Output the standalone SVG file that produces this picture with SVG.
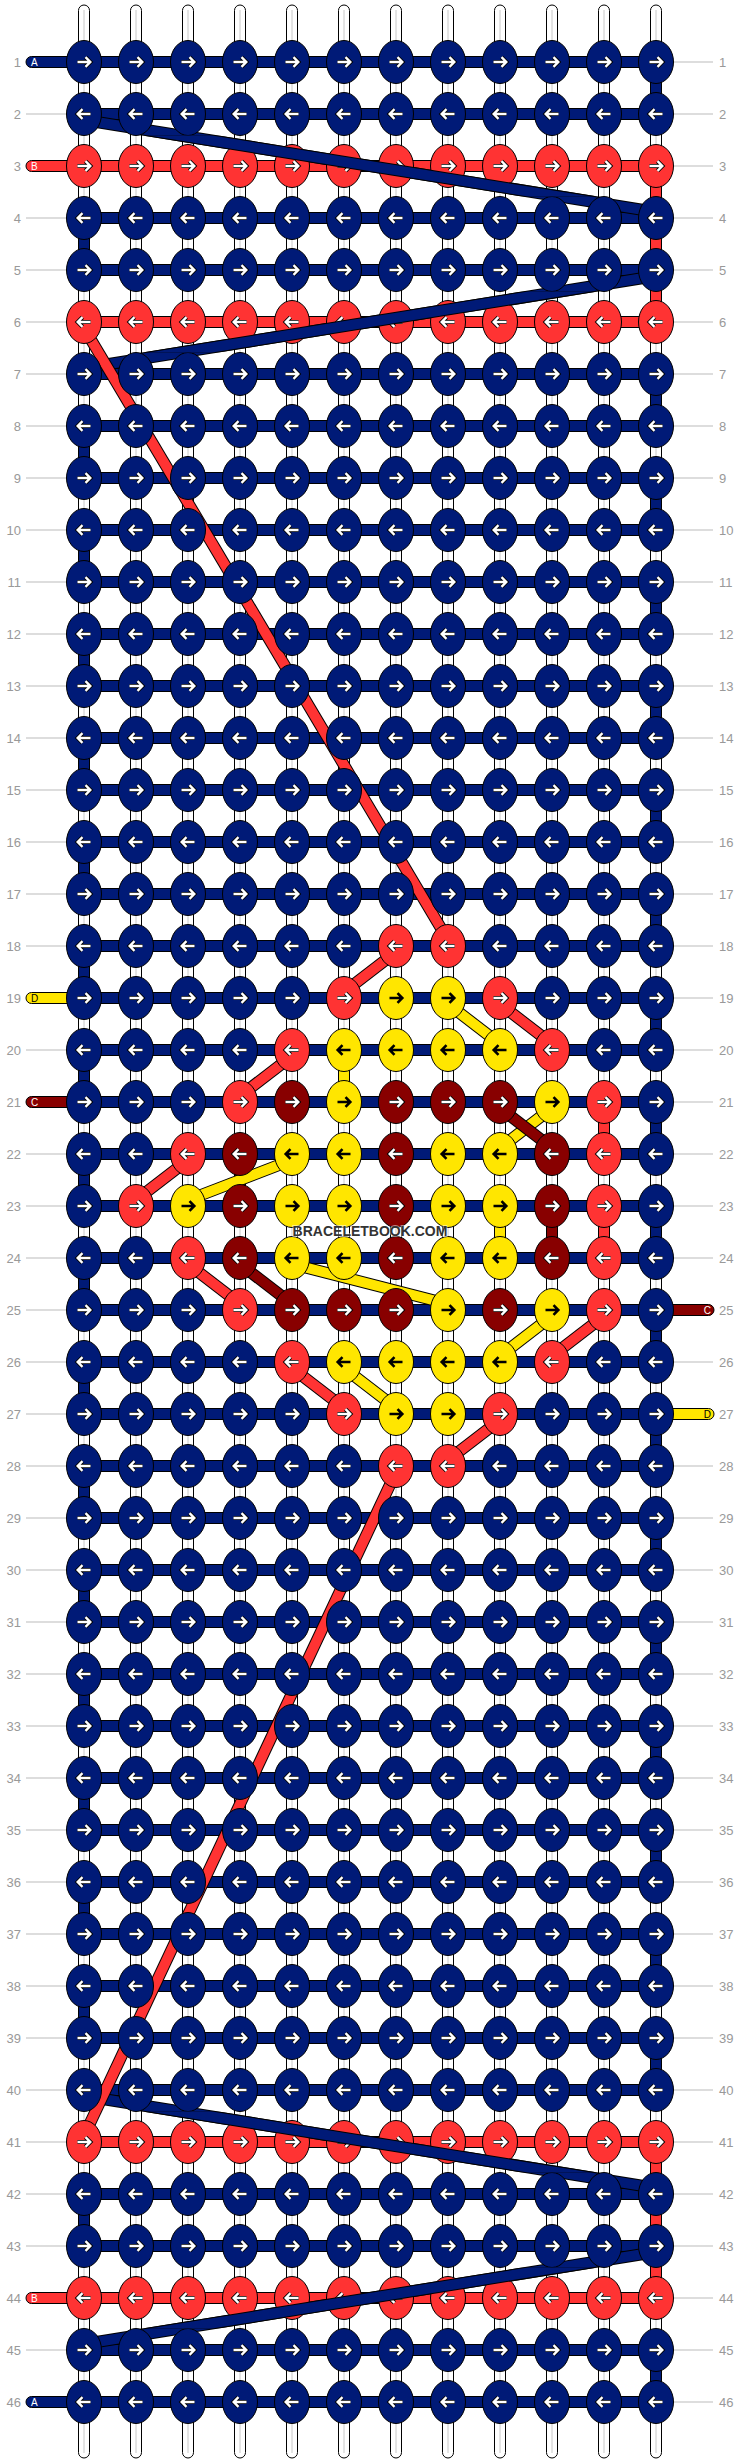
<svg xmlns="http://www.w3.org/2000/svg" xmlns:xlink="http://www.w3.org/1999/xlink" width="740" height="2464" viewBox="0 0 740 2464">
<style>
ellipse{stroke:#000;stroke-width:1}
.n{fill:#001a77}.r{fill:#ff3333}.d{fill:#880000}.y{fill:#ffe600}
.ao{fill:none;stroke:#000;stroke-width:4.2}
.aw{fill:none;stroke:#fff;stroke-width:2.4}
.ab{fill:none;stroke:#000;stroke-width:2.6}
.w{fill:#fff;stroke:#000;stroke-width:1}
.wl{stroke:#c8c8c8;stroke-width:1}
.bar{stroke:#000;stroke-width:1}
.o{fill:none;stroke:#000;stroke-width:12}
.tn{fill:none;stroke:#001a77;stroke-width:10}
.tr{fill:none;stroke:#ff3333;stroke-width:10}
.td{fill:none;stroke:#880000;stroke-width:10}
.ty{fill:none;stroke:#ffe600;stroke-width:10}
.gl{fill:none;stroke:#bbb;stroke-width:1}
.num{font-family:"Liberation Sans",Arial,sans-serif;font-size:13px;fill:#999}
.lt{text-anchor:end}
.sl{font-family:"Liberation Sans",Arial,sans-serif;font-size:10px;fill:#fff}
.slk{fill:#000}
.wm{font-family:"Liberation Sans",Arial,sans-serif;font-weight:bold;font-size:14px;fill:#333;text-anchor:middle;stroke:#fff;stroke-width:2;stroke-opacity:.5;paint-order:stroke}
</style>
<defs>
<path id="aR" d="M-6.5,0H6M1.5,-4.8L6.3,0L1.5,4.8"/>
<path id="aL" d="M6.5,0H-6M-1.5,-4.8L-6.3,0L-1.5,4.8"/>
<g id="NR"><ellipse rx="17.5" ry="21.5" class="n"/><use href="#aR" class="ao"/><use href="#aR" class="aw"/></g>
<g id="NL"><ellipse rx="17.5" ry="21.5" class="n"/><use href="#aL" class="ao"/><use href="#aL" class="aw"/></g>
<g id="RR"><ellipse rx="17.5" ry="21.5" class="r"/><use href="#aR" class="ao"/><use href="#aR" class="aw"/></g>
<g id="RL"><ellipse rx="17.5" ry="21.5" class="r"/><use href="#aL" class="ao"/><use href="#aL" class="aw"/></g>
<g id="DR"><ellipse rx="17.5" ry="21.5" class="d"/><use href="#aR" class="ao"/><use href="#aR" class="aw"/></g>
<g id="DL"><ellipse rx="17.5" ry="21.5" class="d"/><use href="#aL" class="ao"/><use href="#aL" class="aw"/></g>
<g id="YR"><ellipse rx="17.5" ry="21.5" class="y"/><use href="#aR" class="ab"/></g>
<g id="YL"><ellipse rx="17.5" ry="21.5" class="y"/><use href="#aL" class="ab"/></g>
<g id="wp"><rect class="w" x="-5.5" y="5" width="11" height="2453" rx="5.5"/><path class="wl" d="M0,10V2453"/></g>
<clipPath id="cA"><rect x="0" y="135.5" width="740" height="61"/></clipPath>
<clipPath id="cB"><rect x="0" y="291.5" width="740" height="61"/></clipPath>
<clipPath id="cC"><rect x="0" y="2111.5" width="740" height="61"/></clipPath>
<clipPath id="cD"><rect x="0" y="2267.5" width="740" height="61"/></clipPath>
<path id="dA" d="M84,120L656,212"/>
<path id="dB" d="M656,276L84,368"/>
<path id="dC" d="M84,2096L656,2188"/>
<path id="dD" d="M656,2252L84,2344"/>
<path id="dE" d="M84,328L448,940"/>
<path id="dF" d="M396,1472L84,2136"/>
</defs>
<rect width="740" height="2464" fill="#fff"/>
<g id="warps">
<use href="#wp" x="84"/><use href="#wp" x="136"/><use href="#wp" x="188"/><use href="#wp" x="240"/><use href="#wp" x="292"/><use href="#wp" x="344"/><use href="#wp" x="396"/><use href="#wp" x="448"/><use href="#wp" x="500"/><use href="#wp" x="552"/><use href="#wp" x="604"/><use href="#wp" x="656"/>
</g>
<g id="labels">
<path class="gl" d="M26,114H67M26,218H67M26,270H67M26,322H67M26,374H67M26,426H67M26,478H67M26,530H67M26,582H67M26,634H67M26,686H67M26,738H67M26,790H67M26,842H67M26,894H67M26,946H67M26,1050H67M26,1154H67M26,1206H67M26,1258H67M26,1310H67M26,1362H67M26,1414H67M26,1466H67M26,1518H67M26,1570H67M26,1622H67M26,1674H67M26,1726H67M26,1778H67M26,1830H67M26,1882H67M26,1934H67M26,1986H67M26,2038H67M26,2090H67M26,2142H67M26,2194H67M26,2246H67M26,2350H67"/>
<path class="gl" d="M673,62H713M673,114H713M673,166H713M673,218H713M673,270H713M673,322H713M673,374H713M673,426H713M673,478H713M673,530H713M673,582H713M673,634H713M673,686H713M673,738H713M673,790H713M673,842H713M673,894H713M673,946H713M673,998H713M673,1050H713M673,1102H713M673,1154H713M673,1206H713M673,1258H713M673,1362H713M673,1466H713M673,1518H713M673,1570H713M673,1622H713M673,1674H713M673,1726H713M673,1778H713M673,1830H713M673,1882H713M673,1934H713M673,1986H713M673,2038H713M673,2090H713M673,2142H713M673,2194H713M673,2246H713M673,2298H713M673,2350H713M673,2402H713"/>
<g class="num lt">
<text x="21" y="66.5">1</text><text x="21" y="118.5">2</text><text x="21" y="170.5">3</text><text x="21" y="222.5">4</text><text x="21" y="274.5">5</text><text x="21" y="326.5">6</text><text x="21" y="378.5">7</text><text x="21" y="430.5">8</text><text x="21" y="482.5">9</text><text x="21" y="534.5">10</text><text x="21" y="586.5">11</text><text x="21" y="638.5">12</text><text x="21" y="690.5">13</text><text x="21" y="742.5">14</text><text x="21" y="794.5">15</text><text x="21" y="846.5">16</text><text x="21" y="898.5">17</text><text x="21" y="950.5">18</text><text x="21" y="1002.5">19</text><text x="21" y="1054.5">20</text><text x="21" y="1106.5">21</text><text x="21" y="1158.5">22</text><text x="21" y="1210.5">23</text><text x="21" y="1262.5">24</text><text x="21" y="1314.5">25</text><text x="21" y="1366.5">26</text><text x="21" y="1418.5">27</text><text x="21" y="1470.5">28</text><text x="21" y="1522.5">29</text><text x="21" y="1574.5">30</text><text x="21" y="1626.5">31</text><text x="21" y="1678.5">32</text><text x="21" y="1730.5">33</text><text x="21" y="1782.5">34</text><text x="21" y="1834.5">35</text><text x="21" y="1886.5">36</text><text x="21" y="1938.5">37</text><text x="21" y="1990.5">38</text><text x="21" y="2042.5">39</text><text x="21" y="2094.5">40</text><text x="21" y="2146.5">41</text><text x="21" y="2198.5">42</text><text x="21" y="2250.5">43</text><text x="21" y="2302.5">44</text><text x="21" y="2354.5">45</text><text x="21" y="2406.5">46</text>
</g>
<g class="num">
<text x="719" y="66.5">1</text><text x="719" y="118.5">2</text><text x="719" y="170.5">3</text><text x="719" y="222.5">4</text><text x="719" y="274.5">5</text><text x="719" y="326.5">6</text><text x="719" y="378.5">7</text><text x="719" y="430.5">8</text><text x="719" y="482.5">9</text><text x="719" y="534.5">10</text><text x="719" y="586.5">11</text><text x="719" y="638.5">12</text><text x="719" y="690.5">13</text><text x="719" y="742.5">14</text><text x="719" y="794.5">15</text><text x="719" y="846.5">16</text><text x="719" y="898.5">17</text><text x="719" y="950.5">18</text><text x="719" y="1002.5">19</text><text x="719" y="1054.5">20</text><text x="719" y="1106.5">21</text><text x="719" y="1158.5">22</text><text x="719" y="1210.5">23</text><text x="719" y="1262.5">24</text><text x="719" y="1314.5">25</text><text x="719" y="1366.5">26</text><text x="719" y="1418.5">27</text><text x="719" y="1470.5">28</text><text x="719" y="1522.5">29</text><text x="719" y="1574.5">30</text><text x="719" y="1626.5">31</text><text x="719" y="1678.5">32</text><text x="719" y="1730.5">33</text><text x="719" y="1782.5">34</text><text x="719" y="1834.5">35</text><text x="719" y="1886.5">36</text><text x="719" y="1938.5">37</text><text x="719" y="1990.5">38</text><text x="719" y="2042.5">39</text><text x="719" y="2094.5">40</text><text x="719" y="2146.5">41</text><text x="719" y="2198.5">42</text><text x="719" y="2250.5">43</text><text x="719" y="2302.5">44</text><text x="719" y="2354.5">45</text><text x="719" y="2406.5">46</text>
</g>
</g>
<g id="connectors">
<g id="bars" class="bar">
<rect class="n" x="84" y="56.5" width="572" height="11"/><rect class="n" x="84" y="108.5" width="572" height="11"/><rect class="r" x="84" y="160.5" width="572" height="11"/><rect class="n" x="84" y="212.5" width="572" height="11"/><rect class="n" x="84" y="264.5" width="572" height="11"/><rect class="r" x="84" y="316.5" width="572" height="11"/><rect class="n" x="84" y="368.5" width="572" height="11"/><rect class="n" x="84" y="420.5" width="572" height="11"/><rect class="n" x="84" y="472.5" width="572" height="11"/><rect class="n" x="84" y="524.5" width="572" height="11"/><rect class="n" x="84" y="576.5" width="572" height="11"/><rect class="n" x="84" y="628.5" width="572" height="11"/><rect class="n" x="84" y="680.5" width="572" height="11"/><rect class="n" x="84" y="732.5" width="572" height="11"/><rect class="n" x="84" y="784.5" width="572" height="11"/><rect class="n" x="84" y="836.5" width="572" height="11"/><rect class="n" x="84" y="888.5" width="572" height="11"/><rect class="n" x="84" y="940.5" width="572" height="11"/><rect class="n" x="84" y="992.5" width="572" height="11"/><rect class="n" x="84" y="1044.5" width="572" height="11"/><rect class="n" x="84" y="1096.5" width="572" height="11"/><rect class="n" x="84" y="1148.5" width="572" height="11"/><rect class="n" x="84" y="1200.5" width="572" height="11"/><rect class="n" x="84" y="1252.5" width="572" height="11"/><rect class="n" x="84" y="1304.5" width="572" height="11"/><rect class="n" x="84" y="1356.5" width="572" height="11"/><rect class="n" x="84" y="1408.5" width="572" height="11"/><rect class="n" x="84" y="1460.5" width="572" height="11"/><rect class="n" x="84" y="1512.5" width="572" height="11"/><rect class="n" x="84" y="1564.5" width="572" height="11"/><rect class="n" x="84" y="1616.5" width="572" height="11"/><rect class="n" x="84" y="1668.5" width="572" height="11"/><rect class="n" x="84" y="1720.5" width="572" height="11"/><rect class="n" x="84" y="1772.5" width="572" height="11"/><rect class="n" x="84" y="1824.5" width="572" height="11"/><rect class="n" x="84" y="1876.5" width="572" height="11"/><rect class="n" x="84" y="1928.5" width="572" height="11"/><rect class="n" x="84" y="1980.5" width="572" height="11"/><rect class="n" x="84" y="2032.5" width="572" height="11"/><rect class="n" x="84" y="2084.5" width="572" height="11"/><rect class="r" x="84" y="2136.5" width="572" height="11"/><rect class="n" x="84" y="2188.5" width="572" height="11"/><rect class="n" x="84" y="2240.5" width="572" height="11"/><rect class="r" x="84" y="2292.5" width="572" height="11"/><rect class="n" x="84" y="2344.5" width="572" height="11"/><rect class="n" x="84" y="2396.5" width="572" height="11"/>
</g>
<g id="stubs" class="bar">
<rect class="n" x="26" y="56.5" width="62" height="11" rx="5.5"/><rect class="r" x="26" y="160.5" width="62" height="11" rx="5.5"/><rect class="y" x="26" y="992.5" width="62" height="11" rx="5.5"/><rect class="d" x="26" y="1096.5" width="62" height="11" rx="5.5"/><rect class="r" x="26" y="2292.5" width="62" height="11" rx="5.5"/><rect class="n" x="26" y="2396.5" width="62" height="11" rx="5.5"/>
<rect class="d" x="652" y="1304.5" width="62" height="11" rx="5.5"/><rect class="y" x="652" y="1408.5" width="62" height="11" rx="5.5"/>
</g>
<g id="stub-labels" class="sl">
<text x="31" y="65.5">A</text><text x="31" y="169.5">B</text><text x="31" y="1001.5" class="slk">D</text><text x="31" y="1105.5">C</text><text x="31" y="2301.5">B</text><text x="31" y="2405.5">A</text>
<text x="711" y="1313.5" text-anchor="end">C</text><text x="711" y="1417.5" text-anchor="end" class="slk">D</text>
</g>
<g id="verticals" class="bar">
<rect class="n" x="650.5" y="62" width="11" height="52"/><rect class="n" x="650.5" y="374" width="11" height="52"/><rect class="n" x="650.5" y="478" width="11" height="52"/><rect class="n" x="650.5" y="582" width="11" height="52"/><rect class="n" x="650.5" y="686" width="11" height="52"/><rect class="n" x="650.5" y="790" width="11" height="52"/><rect class="n" x="650.5" y="894" width="11" height="52"/><rect class="n" x="650.5" y="998" width="11" height="52"/><rect class="n" x="650.5" y="1102" width="11" height="52"/><rect class="n" x="650.5" y="1206" width="11" height="52"/><rect class="n" x="650.5" y="1310" width="11" height="52"/><rect class="n" x="650.5" y="1414" width="11" height="52"/><rect class="n" x="650.5" y="1518" width="11" height="52"/><rect class="n" x="650.5" y="1622" width="11" height="52"/><rect class="n" x="650.5" y="1726" width="11" height="52"/><rect class="n" x="650.5" y="1830" width="11" height="52"/><rect class="n" x="650.5" y="1934" width="11" height="52"/><rect class="n" x="650.5" y="2038" width="11" height="52"/><rect class="n" x="650.5" y="2350" width="11" height="52"/>
<rect class="n" x="78.5" y="218" width="11" height="52"/><rect class="n" x="78.5" y="426" width="11" height="52"/><rect class="n" x="78.5" y="530" width="11" height="52"/><rect class="n" x="78.5" y="634" width="11" height="52"/><rect class="n" x="78.5" y="738" width="11" height="52"/><rect class="n" x="78.5" y="842" width="11" height="52"/><rect class="n" x="78.5" y="946" width="11" height="52"/><rect class="n" x="78.5" y="1050" width="11" height="52"/><rect class="n" x="78.5" y="1154" width="11" height="52"/><rect class="n" x="78.5" y="1258" width="11" height="52"/><rect class="n" x="78.5" y="1362" width="11" height="52"/><rect class="n" x="78.5" y="1466" width="11" height="52"/><rect class="n" x="78.5" y="1570" width="11" height="52"/><rect class="n" x="78.5" y="1674" width="11" height="52"/><rect class="n" x="78.5" y="1778" width="11" height="52"/><rect class="n" x="78.5" y="1882" width="11" height="52"/><rect class="n" x="78.5" y="1986" width="11" height="52"/><rect class="n" x="78.5" y="2194" width="11" height="52"/>
<rect class="r" x="650.5" y="166" width="11" height="156"/><rect class="r" x="650.5" y="2142" width="11" height="156"/><rect class="r" x="598.5" y="1102" width="11" height="52"/><rect class="r" x="598.5" y="1206" width="11" height="52"/>
<rect class="y" x="338.5" y="1050" width="11" height="52"/><rect class="y" x="494.5" y="1206" width="11" height="52"/>
<rect class="d" x="234.5" y="1154" width="11" height="52"/><rect class="d" x="546.5" y="1206" width="11" height="52"/>
</g>
<g id="diagonals">
<use href="#dA" class="o"/><use href="#dA" class="tn"/>
<use href="#dB" class="o"/><use href="#dB" class="tn"/>
<use href="#dC" class="o"/><use href="#dC" class="tn"/>
<use href="#dD" class="o"/><use href="#dD" class="tn"/>
<use href="#dE" class="o"/><use href="#dE" class="tr"/>
<use href="#dF" class="o"/><use href="#dF" class="tr"/>
<path class="o" d="M396,952L344,992"/><path class="tr" d="M396,952L344,992"/>
<path class="o" d="M500,1004L552,1044"/><path class="tr" d="M500,1004L552,1044"/>
<path class="o" d="M292,1056L240,1096"/><path class="tr" d="M292,1056L240,1096"/>
<path class="o" d="M188,1160L136,1200"/><path class="tr" d="M188,1160L136,1200"/>
<path class="o" d="M188,1264L240,1304"/><path class="tr" d="M188,1264L240,1304"/>
<path class="o" d="M604,1316L552,1356"/><path class="tr" d="M604,1316L552,1356"/>
<path class="o" d="M292,1368L344,1408"/><path class="tr" d="M292,1368L344,1408"/>
<path class="o" d="M500,1420L448,1460"/><path class="tr" d="M500,1420L448,1460"/>
<path class="o" d="M448,1004L500,1044"/><path class="ty" d="M448,1004L500,1044"/>
<path class="o" d="M552,1108L500,1148"/><path class="ty" d="M552,1108L500,1148"/>
<path class="o" d="M292,1160L188,1200"/><path class="ty" d="M292,1160L188,1200"/>
<path class="o" d="M292,1264L448,1304"/><path class="ty" d="M292,1264L448,1304"/>
<path class="o" d="M552,1316L500,1356"/><path class="ty" d="M552,1316L500,1356"/>
<path class="o" d="M344,1368L396,1408"/><path class="ty" d="M344,1368L396,1408"/>
<path class="o" d="M500,1108L552,1148"/><path class="td" d="M500,1108L552,1148"/>
<path class="o" d="M240,1264L292,1304"/><path class="td" d="M240,1264L292,1304"/>
</g>
</g>
<g id="nodes">
<g id="row1" transform="translate(0,62)"><g id="k1_1"><use href="#NR" x="84"/></g><g id="k1_2"><use href="#NR" x="136"/></g><g id="k1_3"><use href="#NR" x="188"/></g><g id="k1_4"><use href="#NR" x="240"/></g><g id="k1_5"><use href="#NR" x="292"/></g><g id="k1_6"><use href="#NR" x="344"/></g><g id="k1_7"><use href="#NR" x="396"/></g><g id="k1_8"><use href="#NR" x="448"/></g><g id="k1_9"><use href="#NR" x="500"/></g><g id="k1_10"><use href="#NR" x="552"/></g><g id="k1_11"><use href="#NR" x="604"/></g><g id="k1_12"><use href="#NR" x="656"/></g></g>
<g id="row2" transform="translate(0,114)"><g id="k2_1"><use href="#NL" x="84"/></g><g id="k2_2"><use href="#NL" x="136"/></g><g id="k2_3"><use href="#NL" x="188"/></g><g id="k2_4"><use href="#NL" x="240"/></g><g id="k2_5"><use href="#NL" x="292"/></g><g id="k2_6"><use href="#NL" x="344"/></g><g id="k2_7"><use href="#NL" x="396"/></g><g id="k2_8"><use href="#NL" x="448"/></g><g id="k2_9"><use href="#NL" x="500"/></g><g id="k2_10"><use href="#NL" x="552"/></g><g id="k2_11"><use href="#NL" x="604"/></g><g id="k2_12"><use href="#NL" x="656"/></g></g>
<g id="row3" transform="translate(0,166)"><g id="k3_1"><use href="#RR" x="84"/></g><g id="k3_2"><use href="#RR" x="136"/></g><g id="k3_3"><use href="#RR" x="188"/></g><g id="k3_4"><use href="#RR" x="240"/></g><g id="k3_5"><use href="#RR" x="292"/></g><g id="k3_6"><use href="#RR" x="344"/></g><g id="k3_7"><use href="#RR" x="396"/></g><g id="k3_8"><use href="#RR" x="448"/></g><g id="k3_9"><use href="#RR" x="500"/></g><g id="k3_10"><use href="#RR" x="552"/></g><g id="k3_11"><use href="#RR" x="604"/></g><g id="k3_12"><use href="#RR" x="656"/></g></g>
<g id="row4" transform="translate(0,218)"><g id="k4_1"><use href="#NL" x="84"/></g><g id="k4_2"><use href="#NL" x="136"/></g><g id="k4_3"><use href="#NL" x="188"/></g><g id="k4_4"><use href="#NL" x="240"/></g><g id="k4_5"><use href="#NL" x="292"/></g><g id="k4_6"><use href="#NL" x="344"/></g><g id="k4_7"><use href="#NL" x="396"/></g><g id="k4_8"><use href="#NL" x="448"/></g><g id="k4_9"><use href="#NL" x="500"/></g><g id="k4_10"><use href="#NL" x="552"/></g><g id="k4_11"><use href="#NL" x="604"/></g><g id="k4_12"><use href="#NL" x="656"/></g></g>
<g id="row5" transform="translate(0,270)"><g id="k5_1"><use href="#NR" x="84"/></g><g id="k5_2"><use href="#NR" x="136"/></g><g id="k5_3"><use href="#NR" x="188"/></g><g id="k5_4"><use href="#NR" x="240"/></g><g id="k5_5"><use href="#NR" x="292"/></g><g id="k5_6"><use href="#NR" x="344"/></g><g id="k5_7"><use href="#NR" x="396"/></g><g id="k5_8"><use href="#NR" x="448"/></g><g id="k5_9"><use href="#NR" x="500"/></g><g id="k5_10"><use href="#NR" x="552"/></g><g id="k5_11"><use href="#NR" x="604"/></g><g id="k5_12"><use href="#NR" x="656"/></g></g>
<g id="row6" transform="translate(0,322)"><g id="k6_1"><use href="#RL" x="84"/></g><g id="k6_2"><use href="#RL" x="136"/></g><g id="k6_3"><use href="#RL" x="188"/></g><g id="k6_4"><use href="#RL" x="240"/></g><g id="k6_5"><use href="#RL" x="292"/></g><g id="k6_6"><use href="#RL" x="344"/></g><g id="k6_7"><use href="#RL" x="396"/></g><g id="k6_8"><use href="#RL" x="448"/></g><g id="k6_9"><use href="#RL" x="500"/></g><g id="k6_10"><use href="#RL" x="552"/></g><g id="k6_11"><use href="#RL" x="604"/></g><g id="k6_12"><use href="#RL" x="656"/></g></g>
<g id="row7" transform="translate(0,374)"><g id="k7_1"><use href="#NR" x="84"/></g><g id="k7_2"><use href="#NR" x="136"/></g><g id="k7_3"><use href="#NR" x="188"/></g><g id="k7_4"><use href="#NR" x="240"/></g><g id="k7_5"><use href="#NR" x="292"/></g><g id="k7_6"><use href="#NR" x="344"/></g><g id="k7_7"><use href="#NR" x="396"/></g><g id="k7_8"><use href="#NR" x="448"/></g><g id="k7_9"><use href="#NR" x="500"/></g><g id="k7_10"><use href="#NR" x="552"/></g><g id="k7_11"><use href="#NR" x="604"/></g><g id="k7_12"><use href="#NR" x="656"/></g></g>
<g id="row8" transform="translate(0,426)"><g id="k8_1"><use href="#NL" x="84"/></g><g id="k8_2"><use href="#NL" x="136"/></g><g id="k8_3"><use href="#NL" x="188"/></g><g id="k8_4"><use href="#NL" x="240"/></g><g id="k8_5"><use href="#NL" x="292"/></g><g id="k8_6"><use href="#NL" x="344"/></g><g id="k8_7"><use href="#NL" x="396"/></g><g id="k8_8"><use href="#NL" x="448"/></g><g id="k8_9"><use href="#NL" x="500"/></g><g id="k8_10"><use href="#NL" x="552"/></g><g id="k8_11"><use href="#NL" x="604"/></g><g id="k8_12"><use href="#NL" x="656"/></g></g>
<g id="row9" transform="translate(0,478)"><g id="k9_1"><use href="#NR" x="84"/></g><g id="k9_2"><use href="#NR" x="136"/></g><g id="k9_3"><use href="#NR" x="188"/></g><g id="k9_4"><use href="#NR" x="240"/></g><g id="k9_5"><use href="#NR" x="292"/></g><g id="k9_6"><use href="#NR" x="344"/></g><g id="k9_7"><use href="#NR" x="396"/></g><g id="k9_8"><use href="#NR" x="448"/></g><g id="k9_9"><use href="#NR" x="500"/></g><g id="k9_10"><use href="#NR" x="552"/></g><g id="k9_11"><use href="#NR" x="604"/></g><g id="k9_12"><use href="#NR" x="656"/></g></g>
<g id="row10" transform="translate(0,530)"><g id="k10_1"><use href="#NL" x="84"/></g><g id="k10_2"><use href="#NL" x="136"/></g><g id="k10_3"><use href="#NL" x="188"/></g><g id="k10_4"><use href="#NL" x="240"/></g><g id="k10_5"><use href="#NL" x="292"/></g><g id="k10_6"><use href="#NL" x="344"/></g><g id="k10_7"><use href="#NL" x="396"/></g><g id="k10_8"><use href="#NL" x="448"/></g><g id="k10_9"><use href="#NL" x="500"/></g><g id="k10_10"><use href="#NL" x="552"/></g><g id="k10_11"><use href="#NL" x="604"/></g><g id="k10_12"><use href="#NL" x="656"/></g></g>
<g id="row11" transform="translate(0,582)"><g id="k11_1"><use href="#NR" x="84"/></g><g id="k11_2"><use href="#NR" x="136"/></g><g id="k11_3"><use href="#NR" x="188"/></g><g id="k11_4"><use href="#NR" x="240"/></g><g id="k11_5"><use href="#NR" x="292"/></g><g id="k11_6"><use href="#NR" x="344"/></g><g id="k11_7"><use href="#NR" x="396"/></g><g id="k11_8"><use href="#NR" x="448"/></g><g id="k11_9"><use href="#NR" x="500"/></g><g id="k11_10"><use href="#NR" x="552"/></g><g id="k11_11"><use href="#NR" x="604"/></g><g id="k11_12"><use href="#NR" x="656"/></g></g>
<g id="row12" transform="translate(0,634)"><g id="k12_1"><use href="#NL" x="84"/></g><g id="k12_2"><use href="#NL" x="136"/></g><g id="k12_3"><use href="#NL" x="188"/></g><g id="k12_4"><use href="#NL" x="240"/></g><g id="k12_5"><use href="#NL" x="292"/></g><g id="k12_6"><use href="#NL" x="344"/></g><g id="k12_7"><use href="#NL" x="396"/></g><g id="k12_8"><use href="#NL" x="448"/></g><g id="k12_9"><use href="#NL" x="500"/></g><g id="k12_10"><use href="#NL" x="552"/></g><g id="k12_11"><use href="#NL" x="604"/></g><g id="k12_12"><use href="#NL" x="656"/></g></g>
<g id="row13" transform="translate(0,686)"><g id="k13_1"><use href="#NR" x="84"/></g><g id="k13_2"><use href="#NR" x="136"/></g><g id="k13_3"><use href="#NR" x="188"/></g><g id="k13_4"><use href="#NR" x="240"/></g><g id="k13_5"><use href="#NR" x="292"/></g><g id="k13_6"><use href="#NR" x="344"/></g><g id="k13_7"><use href="#NR" x="396"/></g><g id="k13_8"><use href="#NR" x="448"/></g><g id="k13_9"><use href="#NR" x="500"/></g><g id="k13_10"><use href="#NR" x="552"/></g><g id="k13_11"><use href="#NR" x="604"/></g><g id="k13_12"><use href="#NR" x="656"/></g></g>
<g id="row14" transform="translate(0,738)"><g id="k14_1"><use href="#NL" x="84"/></g><g id="k14_2"><use href="#NL" x="136"/></g><g id="k14_3"><use href="#NL" x="188"/></g><g id="k14_4"><use href="#NL" x="240"/></g><g id="k14_5"><use href="#NL" x="292"/></g><g id="k14_6"><use href="#NL" x="344"/></g><g id="k14_7"><use href="#NL" x="396"/></g><g id="k14_8"><use href="#NL" x="448"/></g><g id="k14_9"><use href="#NL" x="500"/></g><g id="k14_10"><use href="#NL" x="552"/></g><g id="k14_11"><use href="#NL" x="604"/></g><g id="k14_12"><use href="#NL" x="656"/></g></g>
<g id="row15" transform="translate(0,790)"><g id="k15_1"><use href="#NR" x="84"/></g><g id="k15_2"><use href="#NR" x="136"/></g><g id="k15_3"><use href="#NR" x="188"/></g><g id="k15_4"><use href="#NR" x="240"/></g><g id="k15_5"><use href="#NR" x="292"/></g><g id="k15_6"><use href="#NR" x="344"/></g><g id="k15_7"><use href="#NR" x="396"/></g><g id="k15_8"><use href="#NR" x="448"/></g><g id="k15_9"><use href="#NR" x="500"/></g><g id="k15_10"><use href="#NR" x="552"/></g><g id="k15_11"><use href="#NR" x="604"/></g><g id="k15_12"><use href="#NR" x="656"/></g></g>
<g id="row16" transform="translate(0,842)"><g id="k16_1"><use href="#NL" x="84"/></g><g id="k16_2"><use href="#NL" x="136"/></g><g id="k16_3"><use href="#NL" x="188"/></g><g id="k16_4"><use href="#NL" x="240"/></g><g id="k16_5"><use href="#NL" x="292"/></g><g id="k16_6"><use href="#NL" x="344"/></g><g id="k16_7"><use href="#NL" x="396"/></g><g id="k16_8"><use href="#NL" x="448"/></g><g id="k16_9"><use href="#NL" x="500"/></g><g id="k16_10"><use href="#NL" x="552"/></g><g id="k16_11"><use href="#NL" x="604"/></g><g id="k16_12"><use href="#NL" x="656"/></g></g>
<g id="row17" transform="translate(0,894)"><g id="k17_1"><use href="#NR" x="84"/></g><g id="k17_2"><use href="#NR" x="136"/></g><g id="k17_3"><use href="#NR" x="188"/></g><g id="k17_4"><use href="#NR" x="240"/></g><g id="k17_5"><use href="#NR" x="292"/></g><g id="k17_6"><use href="#NR" x="344"/></g><g id="k17_7"><use href="#NR" x="396"/></g><g id="k17_8"><use href="#NR" x="448"/></g><g id="k17_9"><use href="#NR" x="500"/></g><g id="k17_10"><use href="#NR" x="552"/></g><g id="k17_11"><use href="#NR" x="604"/></g><g id="k17_12"><use href="#NR" x="656"/></g></g>
<g id="row18" transform="translate(0,946)"><g id="k18_1"><use href="#NL" x="84"/></g><g id="k18_2"><use href="#NL" x="136"/></g><g id="k18_3"><use href="#NL" x="188"/></g><g id="k18_4"><use href="#NL" x="240"/></g><g id="k18_5"><use href="#NL" x="292"/></g><g id="k18_6"><use href="#NL" x="344"/></g><g id="k18_7"><use href="#RL" x="396"/></g><g id="k18_8"><use href="#RL" x="448"/></g><g id="k18_9"><use href="#NL" x="500"/></g><g id="k18_10"><use href="#NL" x="552"/></g><g id="k18_11"><use href="#NL" x="604"/></g><g id="k18_12"><use href="#NL" x="656"/></g></g>
<g id="row19" transform="translate(0,998)"><g id="k19_1"><use href="#NR" x="84"/></g><g id="k19_2"><use href="#NR" x="136"/></g><g id="k19_3"><use href="#NR" x="188"/></g><g id="k19_4"><use href="#NR" x="240"/></g><g id="k19_5"><use href="#NR" x="292"/></g><g id="k19_6"><use href="#RR" x="344"/></g><g id="k19_7"><use href="#YR" x="396"/></g><g id="k19_8"><use href="#YR" x="448"/></g><g id="k19_9"><use href="#RR" x="500"/></g><g id="k19_10"><use href="#NR" x="552"/></g><g id="k19_11"><use href="#NR" x="604"/></g><g id="k19_12"><use href="#NR" x="656"/></g></g>
<g id="row20" transform="translate(0,1050)"><g id="k20_1"><use href="#NL" x="84"/></g><g id="k20_2"><use href="#NL" x="136"/></g><g id="k20_3"><use href="#NL" x="188"/></g><g id="k20_4"><use href="#NL" x="240"/></g><g id="k20_5"><use href="#RL" x="292"/></g><g id="k20_6"><use href="#YL" x="344"/></g><g id="k20_7"><use href="#YL" x="396"/></g><g id="k20_8"><use href="#YL" x="448"/></g><g id="k20_9"><use href="#YL" x="500"/></g><g id="k20_10"><use href="#RL" x="552"/></g><g id="k20_11"><use href="#NL" x="604"/></g><g id="k20_12"><use href="#NL" x="656"/></g></g>
<g id="row21" transform="translate(0,1102)"><g id="k21_1"><use href="#NR" x="84"/></g><g id="k21_2"><use href="#NR" x="136"/></g><g id="k21_3"><use href="#NR" x="188"/></g><g id="k21_4"><use href="#RR" x="240"/></g><g id="k21_5"><use href="#DR" x="292"/></g><g id="k21_6"><use href="#YR" x="344"/></g><g id="k21_7"><use href="#DR" x="396"/></g><g id="k21_8"><use href="#DR" x="448"/></g><g id="k21_9"><use href="#DR" x="500"/></g><g id="k21_10"><use href="#YR" x="552"/></g><g id="k21_11"><use href="#RR" x="604"/></g><g id="k21_12"><use href="#NR" x="656"/></g></g>
<g id="row22" transform="translate(0,1154)"><g id="k22_1"><use href="#NL" x="84"/></g><g id="k22_2"><use href="#NL" x="136"/></g><g id="k22_3"><use href="#RL" x="188"/></g><g id="k22_4"><use href="#DL" x="240"/></g><g id="k22_5"><use href="#YL" x="292"/></g><g id="k22_6"><use href="#YL" x="344"/></g><g id="k22_7"><use href="#DL" x="396"/></g><g id="k22_8"><use href="#YL" x="448"/></g><g id="k22_9"><use href="#YL" x="500"/></g><g id="k22_10"><use href="#DL" x="552"/></g><g id="k22_11"><use href="#RL" x="604"/></g><g id="k22_12"><use href="#NL" x="656"/></g></g>
<g id="row23" transform="translate(0,1206)"><g id="k23_1"><use href="#NR" x="84"/></g><g id="k23_2"><use href="#RR" x="136"/></g><g id="k23_3"><use href="#YR" x="188"/></g><g id="k23_4"><use href="#DR" x="240"/></g><g id="k23_5"><use href="#YR" x="292"/></g><g id="k23_6"><use href="#YR" x="344"/></g><g id="k23_7"><use href="#DR" x="396"/></g><g id="k23_8"><use href="#YR" x="448"/></g><g id="k23_9"><use href="#YR" x="500"/></g><g id="k23_10"><use href="#DR" x="552"/></g><g id="k23_11"><use href="#RR" x="604"/></g><g id="k23_12"><use href="#NR" x="656"/></g></g>
<g id="row24" transform="translate(0,1258)"><g id="k24_1"><use href="#NL" x="84"/></g><g id="k24_2"><use href="#NL" x="136"/></g><g id="k24_3"><use href="#RL" x="188"/></g><g id="k24_4"><use href="#DL" x="240"/></g><g id="k24_5"><use href="#YL" x="292"/></g><g id="k24_6"><use href="#YL" x="344"/></g><g id="k24_7"><use href="#DL" x="396"/></g><g id="k24_8"><use href="#YL" x="448"/></g><g id="k24_9"><use href="#YL" x="500"/></g><g id="k24_10"><use href="#DL" x="552"/></g><g id="k24_11"><use href="#RL" x="604"/></g><g id="k24_12"><use href="#NL" x="656"/></g></g>
<g id="row25" transform="translate(0,1310)"><g id="k25_1"><use href="#NR" x="84"/></g><g id="k25_2"><use href="#NR" x="136"/></g><g id="k25_3"><use href="#NR" x="188"/></g><g id="k25_4"><use href="#RR" x="240"/></g><g id="k25_5"><use href="#DR" x="292"/></g><g id="k25_6"><use href="#DR" x="344"/></g><g id="k25_7"><use href="#DR" x="396"/></g><g id="k25_8"><use href="#YR" x="448"/></g><g id="k25_9"><use href="#DR" x="500"/></g><g id="k25_10"><use href="#YR" x="552"/></g><g id="k25_11"><use href="#RR" x="604"/></g><g id="k25_12"><use href="#NR" x="656"/></g></g>
<g id="row26" transform="translate(0,1362)"><g id="k26_1"><use href="#NL" x="84"/></g><g id="k26_2"><use href="#NL" x="136"/></g><g id="k26_3"><use href="#NL" x="188"/></g><g id="k26_4"><use href="#NL" x="240"/></g><g id="k26_5"><use href="#RL" x="292"/></g><g id="k26_6"><use href="#YL" x="344"/></g><g id="k26_7"><use href="#YL" x="396"/></g><g id="k26_8"><use href="#YL" x="448"/></g><g id="k26_9"><use href="#YL" x="500"/></g><g id="k26_10"><use href="#RL" x="552"/></g><g id="k26_11"><use href="#NL" x="604"/></g><g id="k26_12"><use href="#NL" x="656"/></g></g>
<g id="row27" transform="translate(0,1414)"><g id="k27_1"><use href="#NR" x="84"/></g><g id="k27_2"><use href="#NR" x="136"/></g><g id="k27_3"><use href="#NR" x="188"/></g><g id="k27_4"><use href="#NR" x="240"/></g><g id="k27_5"><use href="#NR" x="292"/></g><g id="k27_6"><use href="#RR" x="344"/></g><g id="k27_7"><use href="#YR" x="396"/></g><g id="k27_8"><use href="#YR" x="448"/></g><g id="k27_9"><use href="#RR" x="500"/></g><g id="k27_10"><use href="#NR" x="552"/></g><g id="k27_11"><use href="#NR" x="604"/></g><g id="k27_12"><use href="#NR" x="656"/></g></g>
<g id="row28" transform="translate(0,1466)"><g id="k28_1"><use href="#NL" x="84"/></g><g id="k28_2"><use href="#NL" x="136"/></g><g id="k28_3"><use href="#NL" x="188"/></g><g id="k28_4"><use href="#NL" x="240"/></g><g id="k28_5"><use href="#NL" x="292"/></g><g id="k28_6"><use href="#NL" x="344"/></g><g id="k28_7"><use href="#RL" x="396"/></g><g id="k28_8"><use href="#RL" x="448"/></g><g id="k28_9"><use href="#NL" x="500"/></g><g id="k28_10"><use href="#NL" x="552"/></g><g id="k28_11"><use href="#NL" x="604"/></g><g id="k28_12"><use href="#NL" x="656"/></g></g>
<g id="row29" transform="translate(0,1518)"><g id="k29_1"><use href="#NR" x="84"/></g><g id="k29_2"><use href="#NR" x="136"/></g><g id="k29_3"><use href="#NR" x="188"/></g><g id="k29_4"><use href="#NR" x="240"/></g><g id="k29_5"><use href="#NR" x="292"/></g><g id="k29_6"><use href="#NR" x="344"/></g><g id="k29_7"><use href="#NR" x="396"/></g><g id="k29_8"><use href="#NR" x="448"/></g><g id="k29_9"><use href="#NR" x="500"/></g><g id="k29_10"><use href="#NR" x="552"/></g><g id="k29_11"><use href="#NR" x="604"/></g><g id="k29_12"><use href="#NR" x="656"/></g></g>
<g id="row30" transform="translate(0,1570)"><g id="k30_1"><use href="#NL" x="84"/></g><g id="k30_2"><use href="#NL" x="136"/></g><g id="k30_3"><use href="#NL" x="188"/></g><g id="k30_4"><use href="#NL" x="240"/></g><g id="k30_5"><use href="#NL" x="292"/></g><g id="k30_6"><use href="#NL" x="344"/></g><g id="k30_7"><use href="#NL" x="396"/></g><g id="k30_8"><use href="#NL" x="448"/></g><g id="k30_9"><use href="#NL" x="500"/></g><g id="k30_10"><use href="#NL" x="552"/></g><g id="k30_11"><use href="#NL" x="604"/></g><g id="k30_12"><use href="#NL" x="656"/></g></g>
<g id="row31" transform="translate(0,1622)"><g id="k31_1"><use href="#NR" x="84"/></g><g id="k31_2"><use href="#NR" x="136"/></g><g id="k31_3"><use href="#NR" x="188"/></g><g id="k31_4"><use href="#NR" x="240"/></g><g id="k31_5"><use href="#NR" x="292"/></g><g id="k31_6"><use href="#NR" x="344"/></g><g id="k31_7"><use href="#NR" x="396"/></g><g id="k31_8"><use href="#NR" x="448"/></g><g id="k31_9"><use href="#NR" x="500"/></g><g id="k31_10"><use href="#NR" x="552"/></g><g id="k31_11"><use href="#NR" x="604"/></g><g id="k31_12"><use href="#NR" x="656"/></g></g>
<g id="row32" transform="translate(0,1674)"><g id="k32_1"><use href="#NL" x="84"/></g><g id="k32_2"><use href="#NL" x="136"/></g><g id="k32_3"><use href="#NL" x="188"/></g><g id="k32_4"><use href="#NL" x="240"/></g><g id="k32_5"><use href="#NL" x="292"/></g><g id="k32_6"><use href="#NL" x="344"/></g><g id="k32_7"><use href="#NL" x="396"/></g><g id="k32_8"><use href="#NL" x="448"/></g><g id="k32_9"><use href="#NL" x="500"/></g><g id="k32_10"><use href="#NL" x="552"/></g><g id="k32_11"><use href="#NL" x="604"/></g><g id="k32_12"><use href="#NL" x="656"/></g></g>
<g id="row33" transform="translate(0,1726)"><g id="k33_1"><use href="#NR" x="84"/></g><g id="k33_2"><use href="#NR" x="136"/></g><g id="k33_3"><use href="#NR" x="188"/></g><g id="k33_4"><use href="#NR" x="240"/></g><g id="k33_5"><use href="#NR" x="292"/></g><g id="k33_6"><use href="#NR" x="344"/></g><g id="k33_7"><use href="#NR" x="396"/></g><g id="k33_8"><use href="#NR" x="448"/></g><g id="k33_9"><use href="#NR" x="500"/></g><g id="k33_10"><use href="#NR" x="552"/></g><g id="k33_11"><use href="#NR" x="604"/></g><g id="k33_12"><use href="#NR" x="656"/></g></g>
<g id="row34" transform="translate(0,1778)"><g id="k34_1"><use href="#NL" x="84"/></g><g id="k34_2"><use href="#NL" x="136"/></g><g id="k34_3"><use href="#NL" x="188"/></g><g id="k34_4"><use href="#NL" x="240"/></g><g id="k34_5"><use href="#NL" x="292"/></g><g id="k34_6"><use href="#NL" x="344"/></g><g id="k34_7"><use href="#NL" x="396"/></g><g id="k34_8"><use href="#NL" x="448"/></g><g id="k34_9"><use href="#NL" x="500"/></g><g id="k34_10"><use href="#NL" x="552"/></g><g id="k34_11"><use href="#NL" x="604"/></g><g id="k34_12"><use href="#NL" x="656"/></g></g>
<g id="row35" transform="translate(0,1830)"><g id="k35_1"><use href="#NR" x="84"/></g><g id="k35_2"><use href="#NR" x="136"/></g><g id="k35_3"><use href="#NR" x="188"/></g><g id="k35_4"><use href="#NR" x="240"/></g><g id="k35_5"><use href="#NR" x="292"/></g><g id="k35_6"><use href="#NR" x="344"/></g><g id="k35_7"><use href="#NR" x="396"/></g><g id="k35_8"><use href="#NR" x="448"/></g><g id="k35_9"><use href="#NR" x="500"/></g><g id="k35_10"><use href="#NR" x="552"/></g><g id="k35_11"><use href="#NR" x="604"/></g><g id="k35_12"><use href="#NR" x="656"/></g></g>
<g id="row36" transform="translate(0,1882)"><g id="k36_1"><use href="#NL" x="84"/></g><g id="k36_2"><use href="#NL" x="136"/></g><g id="k36_3"><use href="#NL" x="188"/></g><g id="k36_4"><use href="#NL" x="240"/></g><g id="k36_5"><use href="#NL" x="292"/></g><g id="k36_6"><use href="#NL" x="344"/></g><g id="k36_7"><use href="#NL" x="396"/></g><g id="k36_8"><use href="#NL" x="448"/></g><g id="k36_9"><use href="#NL" x="500"/></g><g id="k36_10"><use href="#NL" x="552"/></g><g id="k36_11"><use href="#NL" x="604"/></g><g id="k36_12"><use href="#NL" x="656"/></g></g>
<g id="row37" transform="translate(0,1934)"><g id="k37_1"><use href="#NR" x="84"/></g><g id="k37_2"><use href="#NR" x="136"/></g><g id="k37_3"><use href="#NR" x="188"/></g><g id="k37_4"><use href="#NR" x="240"/></g><g id="k37_5"><use href="#NR" x="292"/></g><g id="k37_6"><use href="#NR" x="344"/></g><g id="k37_7"><use href="#NR" x="396"/></g><g id="k37_8"><use href="#NR" x="448"/></g><g id="k37_9"><use href="#NR" x="500"/></g><g id="k37_10"><use href="#NR" x="552"/></g><g id="k37_11"><use href="#NR" x="604"/></g><g id="k37_12"><use href="#NR" x="656"/></g></g>
<g id="row38" transform="translate(0,1986)"><g id="k38_1"><use href="#NL" x="84"/></g><g id="k38_2"><use href="#NL" x="136"/></g><g id="k38_3"><use href="#NL" x="188"/></g><g id="k38_4"><use href="#NL" x="240"/></g><g id="k38_5"><use href="#NL" x="292"/></g><g id="k38_6"><use href="#NL" x="344"/></g><g id="k38_7"><use href="#NL" x="396"/></g><g id="k38_8"><use href="#NL" x="448"/></g><g id="k38_9"><use href="#NL" x="500"/></g><g id="k38_10"><use href="#NL" x="552"/></g><g id="k38_11"><use href="#NL" x="604"/></g><g id="k38_12"><use href="#NL" x="656"/></g></g>
<g id="row39" transform="translate(0,2038)"><g id="k39_1"><use href="#NR" x="84"/></g><g id="k39_2"><use href="#NR" x="136"/></g><g id="k39_3"><use href="#NR" x="188"/></g><g id="k39_4"><use href="#NR" x="240"/></g><g id="k39_5"><use href="#NR" x="292"/></g><g id="k39_6"><use href="#NR" x="344"/></g><g id="k39_7"><use href="#NR" x="396"/></g><g id="k39_8"><use href="#NR" x="448"/></g><g id="k39_9"><use href="#NR" x="500"/></g><g id="k39_10"><use href="#NR" x="552"/></g><g id="k39_11"><use href="#NR" x="604"/></g><g id="k39_12"><use href="#NR" x="656"/></g></g>
<g id="row40" transform="translate(0,2090)"><g id="k40_1"><use href="#NL" x="84"/></g><g id="k40_2"><use href="#NL" x="136"/></g><g id="k40_3"><use href="#NL" x="188"/></g><g id="k40_4"><use href="#NL" x="240"/></g><g id="k40_5"><use href="#NL" x="292"/></g><g id="k40_6"><use href="#NL" x="344"/></g><g id="k40_7"><use href="#NL" x="396"/></g><g id="k40_8"><use href="#NL" x="448"/></g><g id="k40_9"><use href="#NL" x="500"/></g><g id="k40_10"><use href="#NL" x="552"/></g><g id="k40_11"><use href="#NL" x="604"/></g><g id="k40_12"><use href="#NL" x="656"/></g></g>
<g id="row41" transform="translate(0,2142)"><g id="k41_1"><use href="#RR" x="84"/></g><g id="k41_2"><use href="#RR" x="136"/></g><g id="k41_3"><use href="#RR" x="188"/></g><g id="k41_4"><use href="#RR" x="240"/></g><g id="k41_5"><use href="#RR" x="292"/></g><g id="k41_6"><use href="#RR" x="344"/></g><g id="k41_7"><use href="#RR" x="396"/></g><g id="k41_8"><use href="#RR" x="448"/></g><g id="k41_9"><use href="#RR" x="500"/></g><g id="k41_10"><use href="#RR" x="552"/></g><g id="k41_11"><use href="#RR" x="604"/></g><g id="k41_12"><use href="#RR" x="656"/></g></g>
<g id="row42" transform="translate(0,2194)"><g id="k42_1"><use href="#NL" x="84"/></g><g id="k42_2"><use href="#NL" x="136"/></g><g id="k42_3"><use href="#NL" x="188"/></g><g id="k42_4"><use href="#NL" x="240"/></g><g id="k42_5"><use href="#NL" x="292"/></g><g id="k42_6"><use href="#NL" x="344"/></g><g id="k42_7"><use href="#NL" x="396"/></g><g id="k42_8"><use href="#NL" x="448"/></g><g id="k42_9"><use href="#NL" x="500"/></g><g id="k42_10"><use href="#NL" x="552"/></g><g id="k42_11"><use href="#NL" x="604"/></g><g id="k42_12"><use href="#NL" x="656"/></g></g>
<g id="row43" transform="translate(0,2246)"><g id="k43_1"><use href="#NR" x="84"/></g><g id="k43_2"><use href="#NR" x="136"/></g><g id="k43_3"><use href="#NR" x="188"/></g><g id="k43_4"><use href="#NR" x="240"/></g><g id="k43_5"><use href="#NR" x="292"/></g><g id="k43_6"><use href="#NR" x="344"/></g><g id="k43_7"><use href="#NR" x="396"/></g><g id="k43_8"><use href="#NR" x="448"/></g><g id="k43_9"><use href="#NR" x="500"/></g><g id="k43_10"><use href="#NR" x="552"/></g><g id="k43_11"><use href="#NR" x="604"/></g><g id="k43_12"><use href="#NR" x="656"/></g></g>
<g id="row44" transform="translate(0,2298)"><g id="k44_1"><use href="#RL" x="84"/></g><g id="k44_2"><use href="#RL" x="136"/></g><g id="k44_3"><use href="#RL" x="188"/></g><g id="k44_4"><use href="#RL" x="240"/></g><g id="k44_5"><use href="#RL" x="292"/></g><g id="k44_6"><use href="#RL" x="344"/></g><g id="k44_7"><use href="#RL" x="396"/></g><g id="k44_8"><use href="#RL" x="448"/></g><g id="k44_9"><use href="#RL" x="500"/></g><g id="k44_10"><use href="#RL" x="552"/></g><g id="k44_11"><use href="#RL" x="604"/></g><g id="k44_12"><use href="#RL" x="656"/></g></g>
<g id="row45" transform="translate(0,2350)"><g id="k45_1"><use href="#NR" x="84"/></g><g id="k45_2"><use href="#NR" x="136"/></g><g id="k45_3"><use href="#NR" x="188"/></g><g id="k45_4"><use href="#NR" x="240"/></g><g id="k45_5"><use href="#NR" x="292"/></g><g id="k45_6"><use href="#NR" x="344"/></g><g id="k45_7"><use href="#NR" x="396"/></g><g id="k45_8"><use href="#NR" x="448"/></g><g id="k45_9"><use href="#NR" x="500"/></g><g id="k45_10"><use href="#NR" x="552"/></g><g id="k45_11"><use href="#NR" x="604"/></g><g id="k45_12"><use href="#NR" x="656"/></g></g>
<g id="row46" transform="translate(0,2402)"><g id="k46_1"><use href="#NL" x="84"/></g><g id="k46_2"><use href="#NL" x="136"/></g><g id="k46_3"><use href="#NL" x="188"/></g><g id="k46_4"><use href="#NL" x="240"/></g><g id="k46_5"><use href="#NL" x="292"/></g><g id="k46_6"><use href="#NL" x="344"/></g><g id="k46_7"><use href="#NL" x="396"/></g><g id="k46_8"><use href="#NL" x="448"/></g><g id="k46_9"><use href="#NL" x="500"/></g><g id="k46_10"><use href="#NL" x="552"/></g><g id="k46_11"><use href="#NL" x="604"/></g><g id="k46_12"><use href="#NL" x="656"/></g></g>
</g>
<g id="connector-crossings">
<g clip-path="url(#cA)"><use href="#dA" class="o"/><use href="#dA" class="tn"/></g>
<g clip-path="url(#cB)"><use href="#dB" class="o"/><use href="#dB" class="tn"/></g>
<g clip-path="url(#cC)"><use href="#dC" class="o"/><use href="#dC" class="tn"/></g>
<g clip-path="url(#cD)"><use href="#dD" class="o"/><use href="#dD" class="tn"/></g>
</g>
<text id="watermark" class="wm" x="370" y="1236">BRACELETBOOK.COM</text>
</svg>
